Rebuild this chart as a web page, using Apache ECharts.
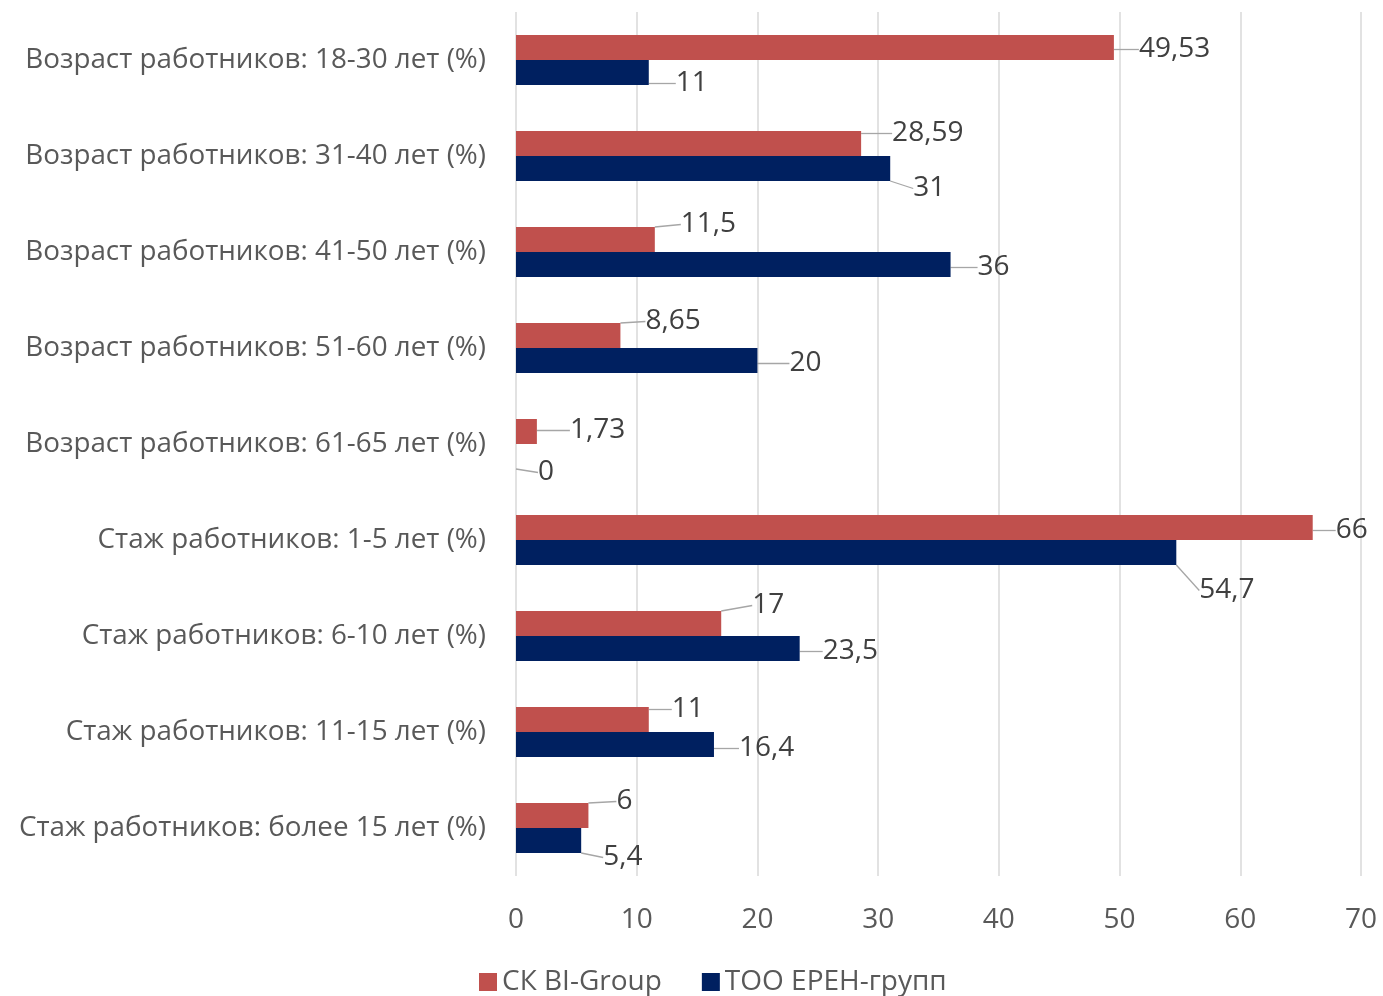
<!DOCTYPE html>
<html><head><meta charset="utf-8">
<script src="https://cdn.jsdelivr.net/npm/echarts@6/dist/echarts.min.js"></script>
<style>html,body{margin:0;padding:0;background:#fff}#c{width:1383px;height:996px}</style>
</head><body><div id="c"></div>
<script>
const categories = [
  'Возраст работников: 18-30 лет (%)',
  'Возраст работников: 31-40 лет (%)',
  'Возраст работников: 41-50 лет (%)',
  'Возраст работников: 51-60 лет (%)',
  'Возраст работников: 61-65 лет (%)',
  'Стаж работников: 1-5 лет (%)',
  'Стаж работников: 6-10 лет (%)',
  'Стаж работников: 11-15 лет (%)',
  'Стаж работников: более 15 лет (%)'
];
const seriesNames = ['СК BI-Group', 'ТОО ЕРЕН-групп'];
const biGroup = [49.53, 28.59, 11.5, 8.65, 1.73, 66, 17, 11, 6];
const erenGroup = [11, 31, 36, 20, 0, 54.7, 23.5, 16.4, 5.4];
const xTicks = [0, 10, 20, 30, 40, 50, 60, 70];

// label offsets (style only)
const offsRed = [[14,2],[20,-10],[15,-15],[14,-14],[22,-1],[12,3],[20,-18],[12,-10],[17,-14]];
const offsBlue = [[16,11],[12,20],[16,3],[21,3],[11,16],[12,38],[12,3],[14,4],[11,17]];

const FONT = '"Open Sans", "Noto Sans", sans-serif';
const chart = echarts.init(document.getElementById('c'));
function fmt(p){ return String(p.value).replace('.', ','); }
function mkSeries(name, data, color, offs){
  return {
    name, type: 'bar', data,
    barWidth: 25, barGap: '0%',
    itemStyle: { color },
    label: { show: true, position: 'right', distance: 5, formatter: fmt,
      padding: [0, 0, 0, 6],
      fontFamily: FONT, fontSize: 28, color: '#404040' },
    labelLine: { show: true, lineStyle: { color: '#A6A6A6', width: 1.3 } },
    labelLayout: function(p){ const o = offs[p.dataIndex]; return { dx: o[0], dy: o[1] }; }
  };
}
chart.setOption({
  animation: false,
  textStyle: { fontFamily: FONT },
  grid: { left: 516, right: 22, top: 12, bottom: 120, containLabel: false },
  legend: {
    bottom: -5, left: 474, itemWidth: 18, itemHeight: 18, itemGap: 40,
    icon: 'rect',
    textStyle: { fontFamily: FONT, fontSize: 28, color: '#595959' },
    data: seriesNames
  },
  xAxis: {
    type: 'value', min: xTicks[0], max: xTicks[xTicks.length-1], interval: 10,
    axisLine: { show: false }, axisTick: { show: false },
    splitLine: { show: true, lineStyle: { color: '#D9D9D9', width: 1.5 } },
    axisLabel: { fontFamily: FONT, fontSize: 28, color: '#595959', margin: 30 }
  },
  yAxis: {
    type: 'category', data: categories, inverse: true,
    axisLine: { show: false }, axisTick: { show: false },
    axisLabel: { fontFamily: FONT, fontSize: 27.8, color: '#595959', margin: 30 }
  },
  series: [
    mkSeries(seriesNames[0], biGroup, '#C0504D', offsRed),
    mkSeries(seriesNames[1], erenGroup, '#002060', offsBlue)
  ]
});
</script></body></html>
